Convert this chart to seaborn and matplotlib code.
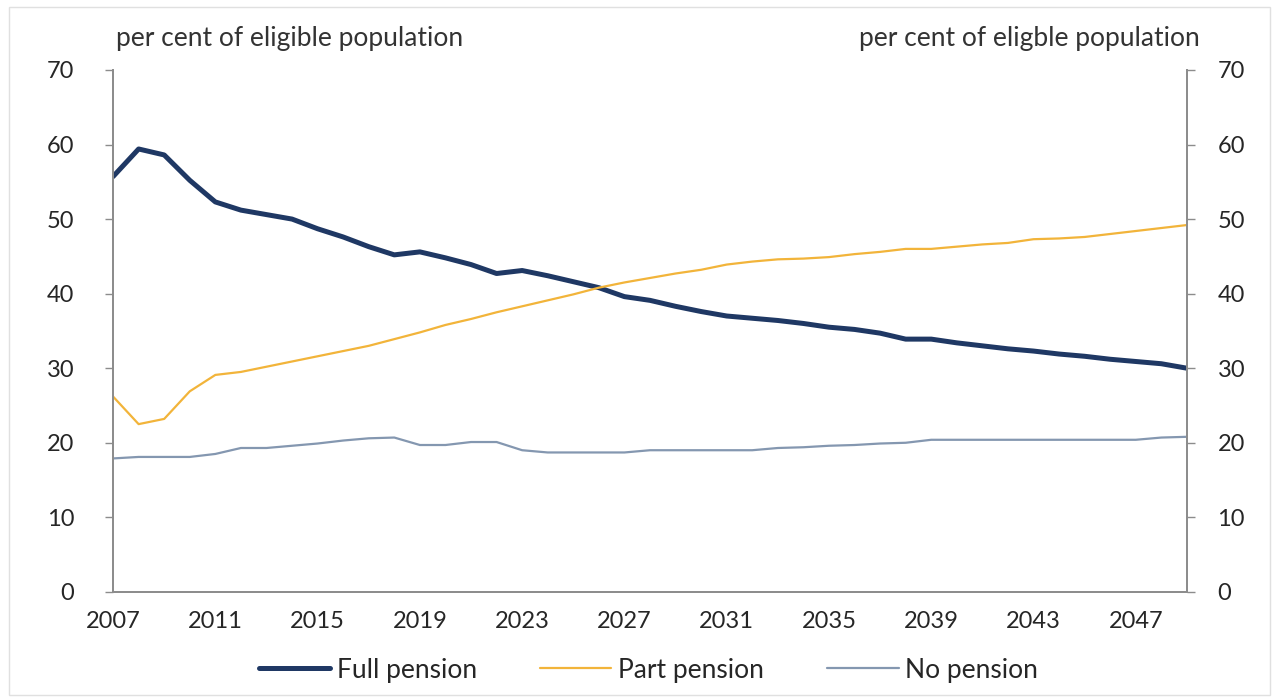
import numpy as np
import pandas as pd
import matplotlib
matplotlib.use("Agg")
import matplotlib.pyplot as plt
import seaborn as sns
from matplotlib.patches import Rectangle

years = list(range(2007, 2050))

full_pension = [55.7, 59.4, 58.6, 55.2, 52.3, 51.2, 50.6, 50.0, 48.7, 47.6, 46.3, 45.2, 45.6,
                44.8, 43.9, 42.7, 43.1, 42.4, 41.6, 40.8, 39.6, 39.1, 38.3, 37.6, 37.0, 36.7,
                36.4, 36.0, 35.5, 35.2, 34.7, 33.9, 33.9, 33.4, 33.0, 32.6, 32.3, 31.9, 31.6,
                31.2, 30.9, 30.6, 30.0]

part_pension = [26.2, 22.5, 23.2, 26.9, 29.1, 29.5, 30.2, 30.9, 31.6, 32.3, 33.0, 33.9, 34.8,
                35.8, 36.6, 37.5, 38.3, 39.1, 39.9, 40.8, 41.5, 42.1, 42.7, 43.2, 43.9, 44.3,
                44.6, 44.7, 44.9, 45.3, 45.6, 46.0, 46.0, 46.3, 46.6, 46.8, 47.3, 47.4, 47.6,
                48.0, 48.4, 48.8, 49.2]

no_pension = [17.9, 18.1, 18.1, 18.1, 18.5, 19.3, 19.3, 19.6, 19.9, 20.3, 20.6, 20.7, 19.7,
              19.7, 20.1, 20.1, 19.0, 18.7, 18.7, 18.7, 18.7, 19.0, 19.0, 19.0, 19.0, 19.0,
              19.3, 19.4, 19.6, 19.7, 19.9, 20.0, 20.4, 20.4, 20.4, 20.4, 20.4, 20.4, 20.4,
              20.4, 20.4, 20.7, 20.8]

series_names = ["Full pension", "Part pension", "No pension"]
colors = ["#1F3864", "#F2B43A", "#8497B0"]
widths = [3.6, 1.6, 1.6]

x_labels = list(range(2007, 2048, 4))
y_ticks = list(range(0, 71, 10))

df = pd.DataFrame({"Year": years, "Full pension": full_pension,
                   "Part pension": part_pension, "No pension": no_pension})
long = df.melt(id_vars="Year", var_name="Series", value_name="Value")

sns.set_style("white")
plt.rcParams["font.family"] = ["Lato", "DejaVu Sans"]

fig = plt.figure(figsize=(12.79, 6.98), dpi=100)
ax = fig.add_axes([0.0884, 0.152, 0.8396, 0.7478])

sns.lineplot(data=long, x="Year", y="Value", hue="Series", hue_order=series_names,
             palette=colors, size="Series", sizes=dict(zip(series_names, widths)),
             size_order=series_names, ax=ax, legend=False)

ax.set_xlim(2007, 2049)
ax.set_ylim(0, 70)
ax.set_xlabel("")
ax.set_ylabel("")

# tick marks every 2 years, labels every 4
tick_pos = list(range(2007, 2050, 2))
ax.set_xticks(tick_pos)
ax.set_xticklabels([str(t) if t in x_labels else "" for t in tick_pos])
ax.tick_params(axis="x", direction="in", length=5, color="#8c8c8c", width=1, pad=14,
               labelsize=17, labelcolor="#262626")

ax.set_yticks(y_ticks)
ax.tick_params(axis="y", direction="out", length=6, color="#8c8c8c", width=1, pad=22,
               labelsize=17, labelcolor="#262626")

for s in ["left", "bottom", "right"]:
    ax.spines[s].set_color("#8c8c8c")
    ax.spines[s].set_linewidth(1.3)
ax.spines["top"].set_visible(False)

ax2 = ax.twinx()
ax2.set_ylim(0, 70)
ax2.set_yticks(y_ticks)
ax2.tick_params(axis="y", direction="out", length=6, color="#8c8c8c", width=1, pad=16,
                labelsize=17, labelcolor="#262626")
for s in ["left", "bottom", "right"]:
    ax2.spines[s].set_color("#8c8c8c")
    ax2.spines[s].set_linewidth(1.3)
ax2.spines["top"].set_visible(False)

fig.text(0.091, 0.945, "per cent of eligible population", fontsize=19, color="#333333",
         ha="left", va="center")
fig.text(0.938, 0.945, "per cent of eligble population", fontsize=19, color="#333333",
         ha="right", va="center")

handles = [plt.Line2D([0], [0], color=c, lw=w) for c, w in zip(colors, widths)]
fig.legend(handles, series_names, loc="center", bbox_to_anchor=(0.507, 0.04), ncol=3,
           frameon=False, fontsize=19, handlelength=2.7, columnspacing=2.4,
           handletextpad=0.25, labelcolor="#262626")

fig.patches.append(Rectangle((0.007, 0.005), 0.986, 0.985, transform=fig.transFigure,
                             fill=False, edgecolor="#e0e0e0", lw=1))

fig.savefig("out.png", dpi=100)
